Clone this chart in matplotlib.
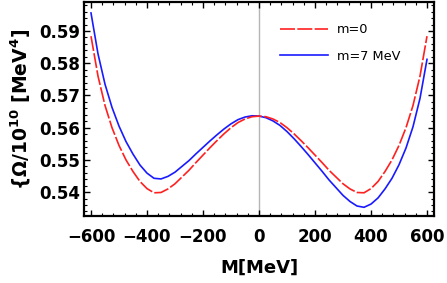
import matplotlib
matplotlib.use("Agg")
import matplotlib.pyplot as plt
from matplotlib.ticker import MultipleLocator, FixedLocator

plt.rcParams['font.family'] = ['DejaVu Sans']
plt.rcParams['mathtext.fontset'] = 'dejavusans'
plt.rcParams['mathtext.default'] = 'bf'

# M values [MeV]
M = [-600, -575, -550, -525, -500, -475, -450, -425, -400, -375, -350, -325, -300,
     -275, -250, -225, -200, -175, -150, -125, -100, -75, -50, -25, 0,
     25, 50, 75, 100, 125, 150, 175, 200, 225, 250, 275, 300,
     325, 350, 375, 400, 425, 450, 475, 500, 525, 550, 575, 600]

# m = 0 (red, dashed)
omega_m0 = [0.5884, 0.5760, 0.5669, 0.5600, 0.5545, 0.5500, 0.5464, 0.5433, 0.5411, 0.5398,
            0.5399, 0.5410, 0.5426, 0.5447, 0.5468, 0.5492, 0.5515, 0.5538, 0.5560, 0.5581,
            0.5600, 0.5616, 0.5627, 0.5634, 0.5636,
            0.5634, 0.5627, 0.5616, 0.5600, 0.5581, 0.5560, 0.5538, 0.5515, 0.5492, 0.5468,
            0.5447, 0.5426, 0.5410, 0.5399, 0.5398, 0.5411, 0.5433, 0.5464, 0.5500, 0.5545,
            0.5600, 0.5669, 0.5760, 0.5884]

# m = 7 MeV (blue, solid)
omega_m7 = [0.5956, 0.5829, 0.5735, 0.5663, 0.5605, 0.5557, 0.5518, 0.5484, 0.5459, 0.5443,
            0.5441, 0.5449, 0.5462, 0.5480, 0.5498, 0.5519, 0.5539, 0.5559, 0.5578, 0.5596,
            0.5612, 0.5625, 0.5633, 0.5637, 0.5636,
            0.5631, 0.5621, 0.5607, 0.5588, 0.5566, 0.5542, 0.5517, 0.5491, 0.5465, 0.5438,
            0.5414, 0.5390, 0.5371, 0.5357, 0.5353, 0.5363, 0.5382, 0.5410, 0.5443, 0.5485,
            0.5537, 0.5603, 0.5691, 0.5812]

labels = ['m=0', 'm=7 MeV']
xticks = [-600, -400, -200, 0, 200, 400, 600]
yticks = [0.54, 0.55, 0.56, 0.57, 0.58, 0.59]

fig = plt.figure(figsize=(4.47, 2.83), dpi=100)
ax = fig.add_axes([84/447, 1-216/283, (434-84)/447, (216-2)/283])

ax.axvline(0, color='#b5b5b5', lw=1.0, zorder=1)
ax.plot(M, omega_m0, color='#ff2020', lw=1.2, dashes=(9, 1.4), label=labels[0], zorder=3)
ax.plot(M, omega_m7, color='#1a1aff', lw=1.2, label=labels[1], zorder=2)

ax.set_xlim(-625, 625)
ax.set_ylim(0.5326, 0.599)
ax.xaxis.set_major_locator(FixedLocator(xticks))
ax.yaxis.set_major_locator(FixedLocator(yticks))
ax.xaxis.set_minor_locator(MultipleLocator(40))
ax.yaxis.set_minor_locator(MultipleLocator(0.002))
ax.set_yticklabels(['%.2f' % v for v in yticks])

ax.tick_params(which='both', direction='in', top=True, right=True, color='black')
ax.tick_params(which='major', length=4, width=1.0, labelsize=12)
ax.tick_params(which='minor', length=2, width=0.8)
ax.tick_params(axis='x', pad=9)
ax.tick_params(axis='y', pad=3)
for lab in ax.get_xticklabels() + ax.get_yticklabels():
    lab.set_fontweight('bold')
for s in ax.spines.values():
    s.set_linewidth(1.6)
    s.set_color('black')

ax.set_xlabel('M[MeV]', fontsize=13, fontweight='bold', labelpad=9)
ax.set_ylabel(r'{$\Omega$/10$^{10}$ [MeV$^{4}$]', fontsize=13.5, fontweight='bold', labelpad=4)

leg = ax.legend(loc='upper left', bbox_to_anchor=(0.545, 0.925), frameon=False, fontsize=9.3,
                handlelength=3.7, handletextpad=0.7, labelspacing=1.05, borderaxespad=0)

fig.savefig('out.png', dpi=100)
